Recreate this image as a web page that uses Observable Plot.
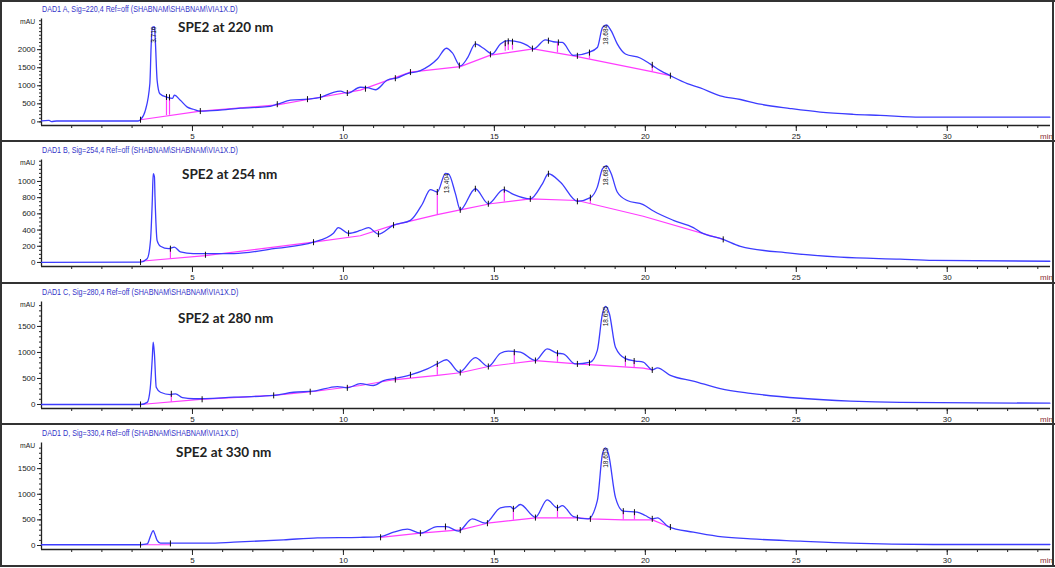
<!DOCTYPE html>
<html><head><meta charset="utf-8">
<script src="https://cdn.jsdelivr.net/npm/d3@7"></script>
<script src="https://cdn.jsdelivr.net/npm/@observablehq/plot@0.6"></script>
<style>
body{margin:0;background:#fff;}
#wrap{position:relative;width:1055px;height:568px;overflow:hidden;background:#fff;font-family:"Liberation Sans Narrow","Arial Narrow","Liberation Sans",Arial,sans-serif;}
.panel{position:absolute;left:0;width:1055px;height:142px;}
.panel svg{position:absolute;left:0;top:0;overflow:visible;background:transparent;}
.ttl{position:absolute;left:42px;font-size:8.5px;line-height:1;color:#3434c8;white-space:nowrap;transform:scaleX(0.84);transform-origin:0 0;}
.lab{position:absolute;font-family:Lato,"Open Sans",sans-serif;font-weight:700;font-size:13.5px;line-height:1;color:#222;white-space:nowrap;}
.mau{position:absolute;left:20px;top:18px;font-size:8px;line-height:1;color:#222;transform:scaleX(0.85);transform-origin:0 0;}
.min{position:absolute;left:1040px;top:133px;font-size:8px;line-height:1;color:#8a3030;}
.hl{position:absolute;left:0;width:1055px;height:2px;background:#333;}
.vl{position:absolute;top:0;width:2px;height:568px;background:#333;}
</style></head>
<body><div id="wrap"></div>
<script>
// ---------- data ----------
const xMajor = [5, 10, 15, 20, 25, 30];
const xMinor = d3.range(1, 34);

const titles = [
  "DAD1 A, Sig=220,4 Ref=off (SHABNAM\\SHABNAM\\VIA1X.D)",
  "DAD1 B, Sig=254,4 Ref=off (SHABNAM\\SHABNAM\\VIA1X.D)",
  "DAD1 C, Sig=280,4 Ref=off (SHABNAM\\SHABNAM\\VIA1X.D)",
  "DAD1 D, Sig=330,4 Ref=off (SHABNAM\\SHABNAM\\VIA1X.D)"
];
const labels = ["SPE2 at 220 nm", "SPE2 at 254 nm", "SPE2 at 280 nm", "SPE2 at 330 nm"];

const yTicks220 = [0, 500, 1000, 1500, 2000];
const yTicks254 = [0, 200, 400, 600, 800, 1000];
const yTicks280 = [0, 500, 1000, 1500];
const yTicks330 = [0, 500, 1000, 1500];

// trace: [time (min), absorbance (mAU)]
const trace220 = [[0,30],[0.25,40],[0.33,10],[0.5,25],[3.2,25],[3.28,60],[3.44,320],[3.59,1070],[3.63,2070],[3.67,2620],[3.74,2640],[3.77,2250],[3.83,1150],[3.92,780],[4.17,680],[4.34,650],[4.40,740],[4.60,600],[4.83,410],[5.03,350],[5.26,300],[5.83,320],[6.59,380],[7.48,420],[7.81,490],[8.25,600],[8.81,630],[9.24,680],[9.67,820],[9.90,850],[10.13,790],[10.56,960],[10.79,950],[11.06,890],[11.46,1160],[11.79,1220],[12.12,1340],[12.55,1420],[13.11,1740],[13.41,2040],[13.61,1910],[13.87,1550],[14.11,1770],[14.37,2160],[14.64,2040],[14.93,1880],[15.20,2160],[15.46,2250],[15.86,2200],[16.09,2120],[16.29,2020],[16.69,2270],[16.95,2220],[17.25,2200],[17.62,1840],[18.11,1920],[18.41,2060],[18.58,2610],[18.71,2690],[18.87,2520],[19.07,2160],[19.34,1880],[19.83,1770],[20.17,1600],[20.50,1420],[20.83,1280],[21.39,1060],[21.82,940],[22.48,720],[23.15,620],[23.81,490],[24.80,370],[25.79,270],[26.89,210],[27.78,180],[29.11,130],[33.4,130]];
const trace254 = [[0,0],[3.28,5],[3.5,45],[3.61,270],[3.67,765],[3.70,1095],[3.74,1060],[3.76,806],[3.83,270],[3.94,200],[4.21,170],[4.40,190],[4.60,130],[5.03,110],[6.37,110],[7.69,170],[9.01,250],[9.67,360],[9.83,430],[10.17,360],[10.56,395],[10.83,430],[11.16,350],[11.66,460],[12.22,520],[12.62,725],[12.88,900],[13.11,870],[13.38,1100],[13.48,1095],[13.71,850],[13.87,650],[14.37,910],[14.80,725],[15.30,900],[15.63,840],[16.19,785],[16.59,970],[16.79,1095],[17.19,990],[17.75,755],[18.18,800],[18.41,930],[18.58,1155],[18.71,1195],[18.87,1095],[19.07,870],[19.40,765],[19.93,715],[20.27,635],[20.93,520],[21.59,430],[21.82,375],[22.58,285],[23.15,200],[24.80,115],[26.46,65],[28.44,40],[29.54,25],[33.4,15]];
const trace280 = [[0,0],[3.28,0],[3.5,40],[3.6,300],[3.67,900],[3.70,1200],[3.74,975],[3.80,330],[3.94,235],[4.27,190],[4.44,205],[4.67,130],[5.03,110],[6.37,140],[7.69,175],[8.35,235],[9.01,255],[9.80,345],[10.13,320],[10.56,400],[10.99,365],[11.33,460],[11.79,510],[12.22,570],[12.78,685],[13.11,780],[13.41,860],[13.84,620],[14.37,900],[14.80,730],[15.20,985],[15.46,1025],[15.86,1005],[16.36,845],[16.75,1070],[17.09,985],[17.28,975],[17.68,780],[18.18,815],[18.41,1040],[18.58,1745],[18.68,1885],[18.81,1745],[19.01,1100],[19.34,880],[19.67,835],[19.93,815],[20.23,665],[20.40,705],[20.83,560],[21.59,450],[22.48,305],[23.48,215],[25.13,120],[26.79,65],[28.44,40],[33.4,25]];
const trace330 = [[0,15],[3.28,15],[3.5,30],[3.62,200],[3.70,290],[3.75,230],[3.83,100],[3.94,45],[4.5,45],[5.5,45],[6.37,65],[8.02,110],[9.14,150],[10.56,160],[11.23,175],[11.66,260],[12.12,320],[12.55,240],[13.11,370],[13.41,370],[13.81,280],[14.27,520],[14.70,435],[15.20,735],[15.53,760],[15.63,715],[15.86,800],[16.36,550],[16.75,890],[17.09,735],[17.25,780],[17.62,565],[18.11,520],[18.41,875],[18.58,1785],[18.68,1905],[18.78,1785],[19.01,940],[19.27,670],[19.73,650],[20.00,585],[20.23,520],[20.40,540],[20.76,370],[21.59,260],[22.4,180],[23.48,130],[25.13,85],[26.79,45],[29.54,20],[33.4,20]];

// integration baselines (list of segments)
const base220 = [[[3.28,60],[5.26,300],[7.81,470],[8.81,620],[10.56,880],[12.22,1380],[13.87,1530],[14.87,1850],[16.29,2020],[17.62,1830],[20.17,1400],[20.83,1280]]];
const base254 = [[[3.28,15],[5.43,85],[9.01,250],[10.56,330],[11.66,460],[13.11,590],[13.87,650],[14.87,725],[16.19,785],[17.75,765],[19.93,570],[22.58,285]]];
const base280 = [[[3.28,0],[5.26,100],[7.69,175],[9.01,250],[10.56,365],[11.66,475],[13.11,560],[13.87,610],[14.80,730],[16.36,845],[17.75,780],[19.93,700],[20.23,665]]];
const base330 = [[[3.28,15],[4.27,15]],[[11.23,160],[12.55,240],[13.87,305],[14.77,435],[16.36,540],[17.75,540],[18.18,520],[19.27,500],[20.23,500],[20.83,355]]];

// drop lines: [time, baseline mAU, signal mAU]
const drops220 = [[4.14,175,690],[4.24,185,680],[15.36,1960,2190],[15.46,1975,2240],[15.6,1990,2220],[17.09,1910,2200],[18.15,1740,1920],[20.23,1390,1590]];
const drops254 = [[4.27,47,170],[13.11,590,870],[15.33,746,900],[18.18,727,800]];
const drops280 = [[4.30,45,205],[13.11,560,780],[15.66,793,1005],[17.09,811,985],[19.34,722,880],[19.63,711,835]];
const drops330 = [[13.38,281,370],[15.63,492,715],[17.09,540,735],[19.27,500,670],[19.64,500,650]];

// peak start/end markers: [time, mAU]
const marks220 = [[3.28,60],[4.14,690],[4.24,680],[5.26,300],[7.81,490],[8.81,630],[9.24,690],[10.13,800],[10.73,920],[11.72,1210],[12.22,1380],[13.84,1560],[14.37,2150],[14.87,1870],[15.36,2180],[15.46,2230],[15.6,2220],[16.26,2030],[16.79,2250],[17.12,2200],[17.75,1830],[18.15,1920],[20.23,1580],[20.83,1280]];
const marks254 = [[3.28,5],[4.27,170],[5.43,95],[9.01,250],[10.17,360],[11.16,350],[11.66,460],[13.11,870],[13.87,650],[14.37,910],[14.80,725],[15.33,900],[16.19,785],[16.79,1095],[17.75,755],[18.18,800],[22.58,285]];
const marks280 = [[3.28,0],[4.30,205],[5.32,100],[7.69,175],[8.9,245],[10.13,320],[11.72,480],[12.22,570],[13.11,780],[13.87,615],[14.80,730],[15.66,1005],[16.36,845],[17.09,985],[17.75,780],[18.15,800],[19.34,880],[19.63,835],[20.23,665]];
const marks330 = [[3.28,15],[4.27,40],[11.23,160],[12.55,240],[13.38,370],[13.87,300],[14.77,435],[15.63,715],[16.36,545],[17.09,735],[17.75,540],[18.18,520],[19.27,670],[19.64,650],[20.23,520],[20.83,360]];

// retention-time labels: [time, mAU, text]
const peaks220 = [[3.72,2640,"3.716"],[18.71,2690,"18.684"]];
const peaks254 = [[13.43,1100,"13.404"],[18.71,1195,"18.684"]];
const peaks280 = [[18.68,1885,"18.655"]];
const peaks330 = [[18.68,1905,"18.653"]];

// ---------- layout / drawing ----------
const BLUE = "#3c3cff", PINK = "#ff3cff";
const vbar = {draw(ctx, size){ const r = Math.sqrt(size) / 2; ctx.moveTo(0, -r); ctx.lineTo(0, r); }};

const panels = [
  {trace: trace220, base: base220, drops: drops220, marks: marks220, peaks: peaks220, yTicks: yTicks220, minor: 100, yDomain: [-100, 2850], top: 0,   labTop: 21, labLeft: 178},
  {trace: trace254, base: base254, drops: drops254, marks: marks254, peaks: peaks254, yTicks: yTicks254, minor: 50,  yDomain: [-50, 1265],  top: 141, labTop: 27, labLeft: 182},
  {trace: trace280, base: base280, drops: drops280, marks: marks280, peaks: peaks280, yTicks: yTicks280, minor: 100, yDomain: [-77, 1970],  top: 283, labTop: 29, labLeft: 178},
  {trace: trace330, base: base330, drops: drops330, marks: marks330, peaks: peaks330, yTicks: yTicks330, minor: 100, yDomain: [-78, 2000],  top: 424, labTop: 22, labLeft: 176}
];

const wrap = document.getElementById("wrap");

panels.forEach((p, i) => {
  const div = document.createElement("div");
  div.className = "panel";
  div.style.top = p.top + "px";
  const baseRows = p.base.flatMap((seg, k) => seg.map(d => ({t: d[0], v: d[1], seg: k})));
  const svg = Plot.plot({
    width: 1055, height: 142,
    marginLeft: 41, marginRight: 5, marginTop: 18.5, marginBottom: 17,
    x: {domain: [0, 33.42]},
    y: {domain: p.yDomain},
    style: {fontFamily: '"Liberation Sans Narrow","Arial Narrow","Liberation Sans",sans-serif', fontSize: "8px", color: "#222", background: "transparent", overflow: "visible"},
    marks: [
      Plot.axisX(xMinor, {tickSize: 3, tickFormat: () => "", label: null, stroke: "#222"}),
      Plot.axisX(xMajor, {tickSize: 6, tickPadding: 2, label: null, stroke: "#222"}),
      Plot.axisY(d3.range(0, p.yDomain[1], p.minor), {tickSize: 2, tickFormat: () => "", label: null, stroke: "#222"}),
      Plot.axisY(p.yTicks, {tickSize: 4, tickPadding: 2, tickFormat: d3.format("d"), label: null, stroke: "#222"}),
      Plot.ruleY([p.yDomain[0]], {stroke: "#222", strokeWidth: 1.3}),
      Plot.ruleX([0], {stroke: "#222", strokeWidth: 1.3}),
      Plot.line(baseRows, {x: "t", y: "v", z: "seg", stroke: PINK, strokeWidth: 1.2}),
      Plot.ruleX(p.drops, {x: d => d[0], y1: d => d[1], y2: d => d[2], stroke: PINK, strokeWidth: 1.2}),
      Plot.line(p.trace, {x: d => d[0], y: d => d[1], stroke: BLUE, strokeWidth: 1.3, curve: "monotone-x"}),
      Plot.dot(p.marks, {x: d => d[0], y: d => d[1], symbol: vbar, r: 3.4, stroke: "#111", strokeWidth: 1}),
      Plot.text(p.peaks, {x: d => d[0], y: d => d[1], text: d => d[2], rotate: -90, textAnchor: "end", fontSize: 6.5, fill: "#111"})
    ]
  });
  div.appendChild(svg);

  const ttl = document.createElement("div");
  ttl.className = "ttl"; ttl.style.top = "4.5px"; ttl.textContent = titles[i];
  div.appendChild(ttl);

  const mau = document.createElement("div");
  mau.className = "mau"; mau.textContent = "mAU";
  div.appendChild(mau);

  const lab = document.createElement("div");
  lab.className = "lab"; lab.style.top = p.labTop + "px"; lab.style.left = p.labLeft + "px";
  lab.textContent = labels[i];
  div.appendChild(lab);

  const mn = document.createElement("div");
  mn.className = "min"; mn.textContent = "min";
  div.appendChild(mn);

  wrap.appendChild(div);
});

// panel frames
[0, 140, 282, 423, 565].forEach(y => {
  const l = document.createElement("div"); l.className = "hl"; l.style.top = y + "px"; wrap.appendChild(l);
});
[0, 1052].forEach(x => {
  const l = document.createElement("div"); l.className = "vl"; l.style.left = x + "px"; l.style.height = "567px"; wrap.appendChild(l);
});
</script>
</body></html>
